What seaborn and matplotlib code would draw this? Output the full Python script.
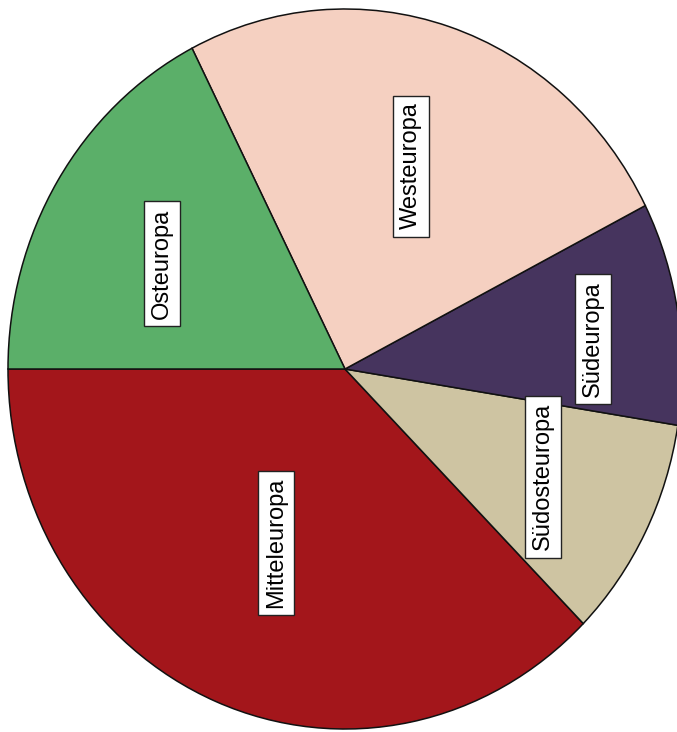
import matplotlib
matplotlib.use("Agg")
import matplotlib.pyplot as plt
import seaborn as sns
import numpy as np

# Data (counts)
regions = ["Mitteleuropa", "Südosteuropa", "Südeuropa", "Westeuropa", "Osteuropa"]
counts = [15, 4, 4, 10, 7]
colors = ["#A3161B", "#CEC4A2", "#46345E", "#F5D0C1", "#5BAF69"]
# label placement (radial fraction, angle offset in degrees)
label_dist = [0.525, 0.66, 0.74, 0.597, 0.617]
label_dang = [-0.5, 0.0, -2.6, -1.2, 3.2]

sns.set_theme(style="white")
plt.rcParams["font.family"] = ["Liberation Sans", "DejaVu Sans"]

fig = plt.figure(figsize=(6.77, 7.32), dpi=100)
ax = fig.add_axes([8 / 677, 3 / 732, 674 / 677, 720 / 732])

wedges, _ = ax.pie(
    counts,
    colors=colors,
    startangle=180,
    counterclock=True,
    wedgeprops=dict(edgecolor="#111111", linewidth=1.1),
)
ax.set_aspect("auto")
ax.set_xlim(-1, 1)
ax.set_ylim(-1, 1)
ax.axis("off")

for w, name, d, da in zip(wedges, regions, label_dist, label_dang):
    mid = np.deg2rad((w.theta1 + w.theta2) / 2 + da)
    ax.text(
        d * np.cos(mid), d * np.sin(mid), name,
        rotation=90, ha="center", va="center", fontsize=17, color="black",
        bbox=dict(boxstyle="square,pad=0.3", facecolor="white",
                  edgecolor="#222222", linewidth=1.0),
    )

fig.savefig("out.png", dpi=100)
